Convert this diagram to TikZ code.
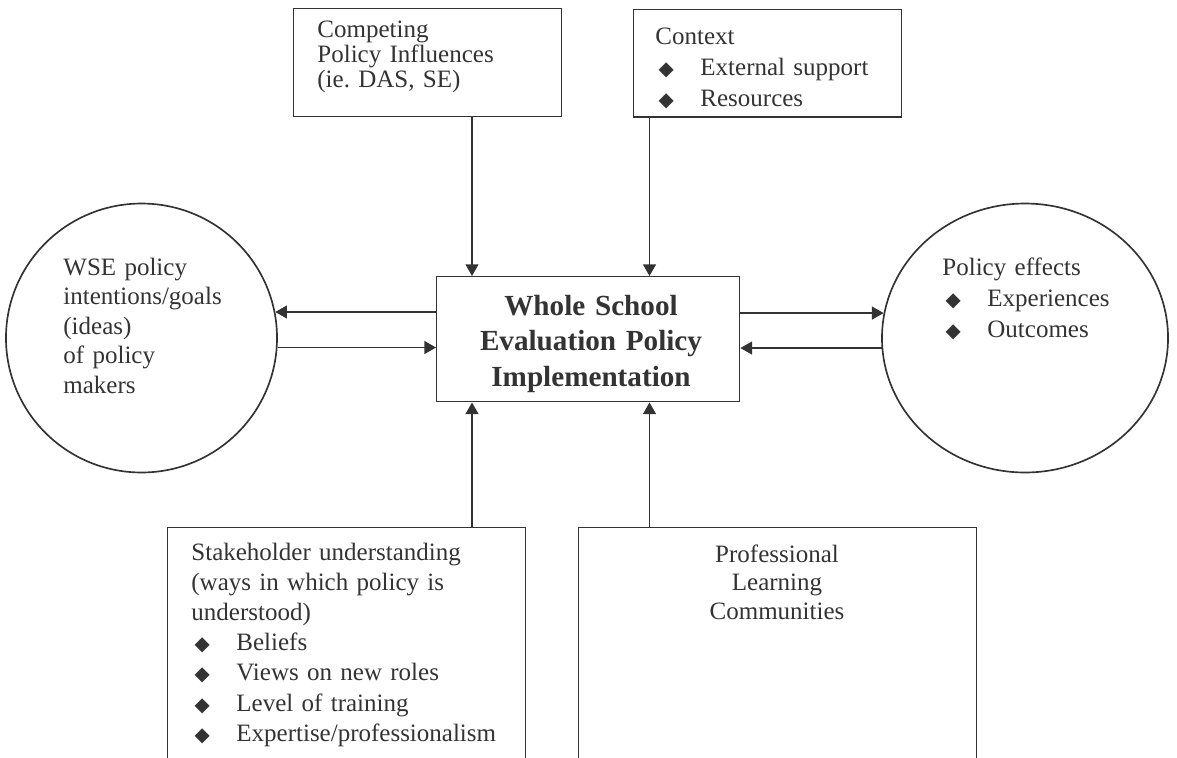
\documentclass[tikz,border=0pt]{standalone}
\usepackage{fontspec}
\setmainfont{Liberation Serif}
\newfontfamily\symfont{DejaVu Sans}
\usetikzlibrary{arrows.meta,shapes.geometric}
\definecolor{ink}{HTML}{333333}
\frenchspacing
\newcommand{\bul}{{\symfont\fontsize{9.5}{9.5}\selectfont ◆}}
\newcommand{\itm}[1]{\hspace*{1.5pt}\makebox[20.1pt][l]{\bul}#1}
\tikzset{
  box/.style={draw=ink, line width=0.7pt, inner sep=0pt, anchor=north west},
  ring/.style={draw=ink, ellipse, line width=0.8pt, inner sep=0pt},
  txt/.style={inner sep=0pt, text=ink, align=left, anchor=base west},
  ctxt/.style={inner sep=0pt, text=ink, align=center, anchor=base},
  arr/.style={draw=ink, line width=0.7pt, -{Triangle[length=5.6pt,width=6.2pt]}},
}
\begin{document}
\begin{tikzpicture}[x=0.48pt,y=-0.48pt]
\useasboundingbox (0,0) rectangle (1177,757);
\clip (0,0) rectangle (1177,757);
% boxes and circles
\node[box, minimum width=128.6pt, minimum height=51.8pt] (comp) at (293,8) {};
\node[box, minimum width=128.6pt, minimum height=51.4pt] (ctx) at (633,9) {};
\node[box, minimum width=145.4pt, minimum height=60pt] (imp) at (436,276) {};
\node[box, minimum width=171.8pt, minimum height=144pt] (stk) at (167,527) {};
\node[box, minimum width=191pt, minimum height=144pt] (plc) at (578,527) {};
\node[ring, minimum width=130.1pt, minimum height=129.1pt] (wse) at (141.5,338) {};
\node[ring, minimum width=137.3pt, minimum height=129.1pt] (eff) at (1025,338) {};
% texts
\node[txt, text width=115pt, font=\fontsize{12}{12.2}\selectfont] (comptxt) at (317,37)
  {Competing\\Policy Influences\\(ie. DAS, SE)};
\node[txt, text width=115pt, font=\fontsize{12}{14.9}\selectfont] (ctxtxt) at (655,44)
  {Context\\\itm{External support}\\\itm{Resources}};
\node[ctxt, text width=150pt, font=\fontsize{14}{17.1}\selectfont\bfseries] (imptxt) at (591,315)
  {Whole School\\Evaluation Policy\\Implementation};
\node[txt, text width=90pt, font=\fontsize{12}{14.2}\selectfont] (wsetxt) at (63,275)
  {WSE policy\\intentions/goals\\(ideas)\\of policy\\makers};
\node[txt, text width=100pt, font=\fontsize{12}{14.9}\selectfont] (efftxt) at (942,275)
  {Policy effects\\\itm{Experiences}\\\itm{Outcomes}};
\node[txt, text width=160pt, font=\fontsize{12}{14.5}\selectfont] (stktxt) at (191,560)
  {Stakeholder understanding\\(ways in which policy is\\understood)\\\itm{Beliefs}\\\itm{Views on new roles}\\\itm{Level of training}\\\itm{Expertise/professionalism}};
\node[ctxt, text width=100pt, font=\fontsize{12}{13.9}\selectfont] (plctxt) at (777,562)
  {Professional\\Learning\\Communities};
% connectors
\coordinate (xl) at (472,0);
\coordinate (xr) at (649.5,0);
\draw[arr] (comp.south -| xl) -- (imp.north -| xl);
\draw[arr] (ctx.south -| xr) -- (imp.north -| xr);
\draw[arr] (stk.north -| xl) -- (imp.south -| xl);
\draw[arr] (plc.north -| xr) -- (imp.south -| xr);
\draw[arr] (imp.west |- wse.11) -- (wse.11);
\draw[arr] (wse.-4) -- (imp.west |- wse.-4);
\draw[arr] (imp.east |- eff.170) -- (eff.170);
\draw[arr] (eff.184) -- (imp.east |- eff.184);
\end{tikzpicture}
\end{document}
